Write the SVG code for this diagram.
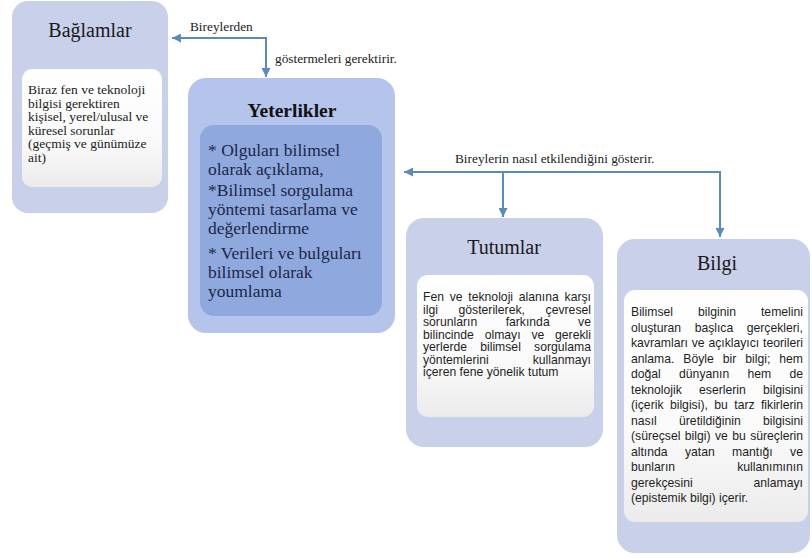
<svg xmlns="http://www.w3.org/2000/svg" width="812" height="558" viewBox="0 0 812 558">
<defs>
  <linearGradient id="wg" x1="0" y1="0" x2="0" y2="1">
    <stop offset="0" stop-color="#ffffff"/>
    <stop offset="0.6" stop-color="#fafafa"/>
    <stop offset="1" stop-color="#ebebeb"/>
  </linearGradient>
  <marker id="ah" viewBox="0 0 10 10" refX="10" refY="5" markerWidth="10" markerHeight="9" markerUnits="userSpaceOnUse" orient="auto">
    <path d="M0,0 L10,5 L0,10 z" fill="#5b8bb6"/>
  </marker>
</defs>
<style>
  .outer { fill: #c9d0ea; }
  .outerY { fill: #b5c4ea; }
  .innerY { fill: #8fa9de; }
  .inner { fill: url(#wg); }
  .title { font-family: "Liberation Serif", serif; font-size: 20px; fill: #1a1a1a; text-anchor: middle; }
  .titleB { font-family: "Liberation Serif", serif; font-size: 19.5px; font-weight: bold; fill: #111; text-anchor: middle; }
  .serif { font-family: "Liberation Serif", serif; font-size: 13.5px; fill: #222; }
  .yt { font-family: "Liberation Serif", serif; font-size: 17.5px; fill: #1b2745; }
  .sans { font-family: "Liberation Sans", Arial, sans-serif; font-size: 12.2px; fill: #1e1e1e; }
  .lbl { font-family: "Liberation Serif", serif; font-size: 13.3px; fill: #222; }
  .conn { fill: none; stroke: #5b8bb6; stroke-width: 2; }
</style>
<rect x="0" y="0" width="812" height="558" fill="#ffffff"/>

<g id="connectors">
  <path class="conn" d="M266,38 L172,38" marker-end="url(#ah)"/>
  <path class="conn" d="M266,37 L266,77" marker-end="url(#ah)"/>
  <path class="conn" d="M721,172 L404,172" marker-end="url(#ah)"/>
  <path class="conn" d="M503,172 L503,217" marker-end="url(#ah)"/>
  <path class="conn" d="M720,171 L720,237" marker-end="url(#ah)"/>
  <text class="lbl" x="190" y="31">Bireylerden</text>
  <text class="lbl" x="275" y="63">göstermeleri gerektirir.</text>
  <text class="lbl" x="455" y="163">Bireylerin nasıl etkilendiğini gösterir.</text>
</g>

<g id="baglamlar">
  <rect class="outer" x="12" y="1" width="156" height="212" rx="16"/>
  <text class="title" x="90" y="37">Bağlamlar</text>
  <rect class="inner" x="22" y="69" width="140" height="118" rx="10"/>
  <text class="serif">
    <tspan x="28" y="94">Biraz fen ve teknoloji</tspan>
    <tspan x="28" y="107.5">bilgisi gerektiren</tspan>
    <tspan x="28" y="121">kişisel, yerel/ulusal ve</tspan>
    <tspan x="28" y="134.5">küresel sorunlar</tspan>
    <tspan x="28" y="148">(geçmiş ve günümüze</tspan>
    <tspan x="28" y="161.5">ait)</tspan>
  </text>
</g>

<g id="yeterlikler">
  <rect class="outerY" x="188" y="78" width="207" height="255" rx="18"/>
  <text class="titleB" x="292" y="117">Yeterlikler</text>
  <rect class="innerY" x="200" y="125" width="182" height="191" rx="14"/>
  <text class="yt">
    <tspan x="208" y="156">* Olguları bilimsel</tspan>
    <tspan x="208" y="175">olarak açıklama,</tspan>
    <tspan x="208" y="196">*Bilimsel sorgulama</tspan>
    <tspan x="208" y="215">yöntemi tasarlama ve</tspan>
    <tspan x="208" y="234">değerlendirme</tspan>
    <tspan x="208" y="259">* Verileri ve bulguları</tspan>
    <tspan x="208" y="278">bilimsel olarak</tspan>
    <tspan x="208" y="297">youmlama</tspan>
  </text>
</g>

<g id="tutumlar">
  <rect class="outer" x="406" y="218" width="197" height="229" rx="18"/>
  <text class="title" x="504" y="254">Tutumlar</text>
  <rect class="inner" x="417" y="275" width="177" height="142" rx="11"/>
  <text class="sans">
    <tspan x="423" y="301">Fen</tspan><tspan x="449.74" y="301">ve</tspan><tspan x="468.34" y="301">teknoloji</tspan><tspan x="518.81" y="301">alanına</tspan><tspan x="564.56" y="301">karşı</tspan>
    <tspan x="423" y="313.5">ilgi</tspan><tspan x="458.53" y="313.5">gösterilerek,</tspan><tspan x="545.58" y="313.5">çevresel</tspan>
    <tspan x="423" y="326">sorunların</tspan><tspan x="505.64" y="326">farkında</tspan><tspan x="578.12" y="326">ve</tspan>
    <tspan x="423" y="338.5">bilincinde</tspan><tspan x="484.65" y="338.5">olmayı</tspan><tspan x="531.38" y="338.5">ve</tspan><tspan x="555.07" y="338.5">gerekli</tspan>
    <tspan x="423" y="351">yerlerde</tspan><tspan x="480.23" y="351">bilimsel</tspan><tspan x="534.05" y="351">sorgulama</tspan>
    <tspan x="423" y="363.5">yöntemlerini</tspan><tspan x="532.70" y="363.5">kullanmayı</tspan>
    <tspan x="423" y="376">içeren fene yönelik tutum</tspan>
  </text>
</g>

<g id="bilgi">
  <rect class="outer" x="617" y="239" width="193" height="314" rx="18"/>
  <text class="title" x="717" y="270">Bilgi</text>
  <rect class="inner" x="624" y="290" width="184" height="232" rx="11"/>
  <text class="sans">
    <tspan x="631" y="316">Bilimsel</tspan><tspan x="698.01" y="316">bilginin</tspan><tspan x="760.97" y="316">temelini</tspan>
    <tspan x="631" y="331.5">oluşturan</tspan><tspan x="694.63" y="331.5">başlıca</tspan><tspan x="746.73" y="331.5">gerçekleri,</tspan>
    <tspan x="631" y="347">kavramları</tspan><tspan x="691.72" y="347">ve</tspan><tspan x="708.38" y="347">açıklayıcı</tspan><tspan x="763.01" y="347">teorileri</tspan>
    <tspan x="631" y="362.5">anlama.</tspan><tspan x="683.33" y="362.5">Böyle</tspan><tspan x="722.77" y="362.5">bir</tspan><tspan x="745.25" y="362.5">bilgi;</tspan><tspan x="779.27" y="362.5">hem</tspan>
    <tspan x="631" y="378">doğal</tspan><tspan x="679.06" y="378">dünyanın</tspan><tspan x="747.47" y="378">hem</tspan><tspan x="789.43" y="378">de</tspan>
    <tspan x="631" y="393.5">teknolojik</tspan><tspan x="699.05" y="393.5">eserlerin</tspan><tspan x="763.01" y="393.5">bilgisini</tspan>
    <tspan x="631" y="409">(içerik</tspan><tspan x="669.93" y="409">bilgisi),</tspan><tspan x="714.28" y="409">bu</tspan><tspan x="734.25" y="409">tarz</tspan><tspan x="760.98" y="409">fikirlerin</tspan>
    <tspan x="631" y="424.5">nasıl</tspan><tspan x="679.04" y="424.5">üretildiğinin</tspan><tspan x="763.01" y="424.5">bilgisini</tspan>
    <tspan x="631" y="440">(süreçsel</tspan><tspan x="684.84" y="440">bilgi)</tspan><tspan x="714.95" y="440">ve</tspan><tspan x="732.19" y="440">bu</tspan><tspan x="750.13" y="440">süreçlerin</tspan>
    <tspan x="631" y="455.5">altında</tspan><tspan x="684.94" y="455.5">yatan</tspan><tspan x="732.10" y="455.5">mantığı</tspan><tspan x="790.12" y="455.5">ve</tspan>
    <tspan x="631" y="471">bunların</tspan><tspan x="737.23" y="471">kullanımının</tspan>
    <tspan x="631" y="486.5">gerekçesini</tspan><tspan x="753.50" y="486.5">anlamayı</tspan>
    <tspan x="631" y="502">(epistemik bilgi) içerir.</tspan>
  </text>
</g>
</svg>
